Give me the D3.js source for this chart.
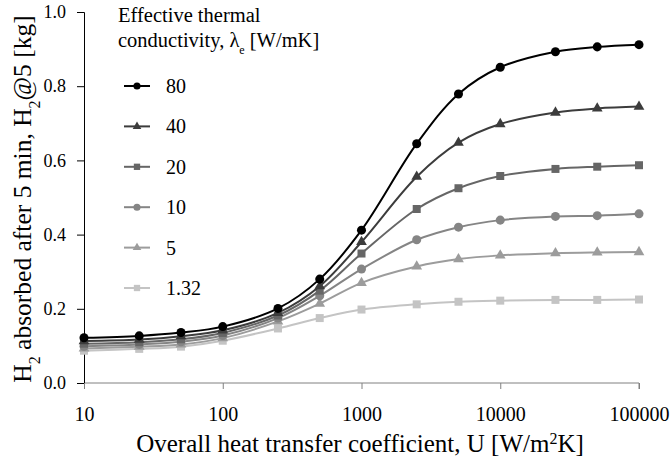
<!DOCTYPE html>
<html>
<head>
<meta charset="utf-8">
<script src="https://cdn.jsdelivr.net/npm/d3@7"></script>
<style>
  body { margin: 0; background: #fff; }
</style>
</head>
<body>
<div id="chart"></div>
<script>
// 1: DATA
const uValues = [10, 25, 50, 100, 250, 500, 1000, 2500, 5000, 10000, 25000, 50000, 100000];
const seriesNames = ["80", "40", "20", "10", "5", "1.32"];
const h2At80 = [0.122, 0.127, 0.136, 0.152, 0.201, 0.280, 0.412, 0.645, 0.779, 0.851, 0.893, 0.906, 0.912];
const h2At40 = [0.113, 0.117, 0.126, 0.142, 0.189, 0.261, 0.380, 0.556, 0.648, 0.698, 0.729, 0.740, 0.745];
const h2At20 = [0.106, 0.110, 0.118, 0.135, 0.182, 0.249, 0.349, 0.469, 0.525, 0.558, 0.577, 0.583, 0.587];
const h2At10 = [0.099, 0.104, 0.111, 0.128, 0.175, 0.235, 0.307, 0.386, 0.420, 0.439, 0.449, 0.451, 0.456];
const h2At5 = [0.093, 0.098, 0.104, 0.121, 0.166, 0.214, 0.270, 0.314, 0.334, 0.344, 0.350, 0.352, 0.353];
const h2At132 = [0.087, 0.092, 0.098, 0.114, 0.147, 0.175, 0.198, 0.212, 0.219, 0.222, 0.224, 0.224, 0.225];
const xTicks = [10, 100, 1000, 10000, 100000];
const yTicks = [0, 0.2, 0.4, 0.6, 0.8, 1.0];

const seriesValues = [h2At80, h2At40, h2At20, h2At10, h2At5, h2At132];
const colors = ["#000000", "#3c3c3c", "#666666", "#858585", "#9c9c9c", "#c4c4c4"];
const shapes = [d3.symbolCircle, d3.symbolTriangle, d3.symbolSquare, d3.symbolCircle, d3.symbolTriangle, d3.symbolSquare];
const FONT = '"Liberation Serif", "Times New Roman", serif';

// 2: LAYOUT
const W = 672, H = 461;
const margin = { top: 12, right: 33, bottom: 78, left: 84 };
const width = W - margin.left - margin.right;
const height = H - margin.top - margin.bottom;

const svg = d3.select("#chart").append("svg")
    .attr("width", W)
    .attr("height", H)
    .style("font-family", FONT);
const g = svg.append("g")
    .attr("transform", `translate(${margin.left},${margin.top})`);

// 3: SCALES
const x = d3.scaleLog().domain([10, 100000]).range([0, width]);
const y = d3.scaleLinear().domain([0, 1]).range([height, 0]);

// 4: AXES
const xAxis = g.append("g")
    .attr("transform", `translate(0,${height})`)
    .call(d3.axisBottom(x).tickValues(xTicks).tickFormat(d3.format("d")).tickSize(6).tickPadding(18));
xAxis.selectAll("path, line").attr("stroke", "#808080");
xAxis.selectAll("text").style("font-size", "20px").style("font-family", FONT).attr("fill", "#000");
xAxis.select(".domain").attr("d", `M0.5,0H${width}V6`);

const yAxis = g.append("g")
    .call(d3.axisLeft(y).tickValues(yTicks).tickFormat(d3.format(".1f")).tickSize(7).tickPadding(11));
yAxis.selectAll("path, line").attr("stroke", "#000");
yAxis.select(".domain").attr("d", `M-7,0.5H0.5V${height}`);
yAxis.selectAll("text").style("font-size", "18px").style("font-family", FONT).attr("fill", "#000");

// 5: LINES + MARKERS
const line = d3.line()
    .x((d, i) => x(uValues[i]))
    .y(d => y(d))
    .curve(d3.curveCatmullRom.alpha(0.5));

// draw lightest first so black ends up on top
for (let s = seriesValues.length - 1; s >= 0; s--) {
    const sg = g.append("g");
    sg.append("path")
        .attr("d", line(seriesValues[s]))
        .attr("fill", "none")
        .attr("stroke", colors[s])
        .attr("stroke-width", 2);
    sg.selectAll("path.mark")
        .data(seriesValues[s])
        .enter()
        .append("path")
        .attr("class", "mark")
        .attr("transform", (d, i) => `translate(${x(uValues[i])},${y(d)})`)
        .attr("d", d3.symbol().type(shapes[s]).size(shapes[s] === d3.symbolTriangle ? 50 : 64))
        .attr("fill", colors[s]);
}

// 6: AXIS LABELS
const xLabel = svg.append("text")
    .attr("x", 360)
    .attr("y", 452)
    .attr("text-anchor", "middle")
    .style("font-size", "25px")
    .text("Overall heat transfer coefficient, U [W/m");
xLabel.append("tspan").attr("baseline-shift", "super").style("font-size", "16px").text("2");
xLabel.append("tspan").text("K]");

const yLabel = svg.append("text")
    .attr("transform", "translate(31,199) rotate(-90)")
    .attr("text-anchor", "middle")
    .style("font-size", "25.5px");
yLabel.append("tspan").text("H");
yLabel.append("tspan").attr("baseline-shift", "sub").style("font-size", "16px").text("2");
yLabel.append("tspan").text(" absorbed after 5 min, H");
yLabel.append("tspan").attr("baseline-shift", "sub").style("font-size", "16px").text("2");
yLabel.append("tspan").text("@5 [kg]");

// 7: LEGEND
svg.append("text")
    .attr("x", 118).attr("y", 22)
    .style("font-size", "20.5px")
    .text("Effective thermal");
const lt = svg.append("text")
    .attr("x", 118).attr("y", 47)
    .style("font-size", "20.5px")
    .text("conductivity, λ");
lt.append("tspan").attr("baseline-shift", "sub").style("font-size", "12px").text("e");
lt.append("tspan").text(" [W/mK]");

const legend = svg.selectAll(".legend")
    .data(seriesNames)
    .enter()
    .append("g")
    .attr("class", "legend")
    .attr("transform", (d, i) => `translate(0,${86 + i * 40.4})`);

legend.append("line")
    .attr("x1", 124).attr("x2", 150)
    .attr("stroke", (d, i) => colors[i])
    .attr("stroke-width", 2);
legend.append("path")
    .attr("transform", "translate(137,0)")
    .attr("d", (d, i) => d3.symbol().type(shapes[i]).size(shapes[i] === d3.symbolTriangle ? 32 : 40)())
    .attr("fill", (d, i) => colors[i]);
legend.append("text")
    .attr("x", 166)
    .attr("dy", "0.35em")
    .style("font-size", "20px")
    .text(d => d);
</script>
</body>
</html>
